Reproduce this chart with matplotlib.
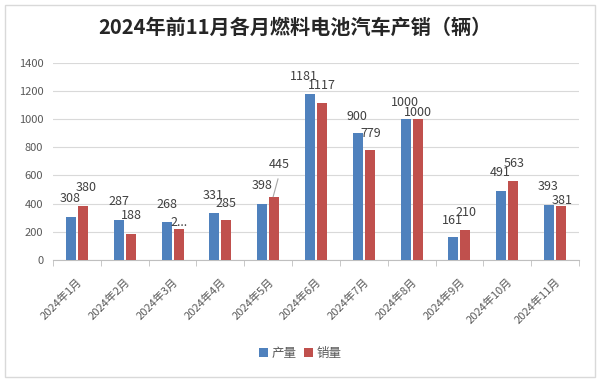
import matplotlib.pyplot as plt
from matplotlib.patches import Rectangle
import numpy as np

plt.rcParams['font.family'] = ['Noto Sans CJK SC', 'DejaVu Sans']

months = ['2024年1月', '2024年2月', '2024年3月', '2024年4月', '2024年5月', '2024年6月',
          '2024年7月', '2024年8月', '2024年9月', '2024年10月', '2024年11月']
production = [308, 287, 268, 331, 398, 1181, 900, 1000, 161, 491, 393]
sales = [380, 188, 220, 285, 445, 1117, 779, 1000, 210, 563, 381]
sales_text = ['380', '188', '2...', '285', '445', '1117', '779', '1000', '210', '563', '381']

# label offsets in pixels (dx, dy) from bar top, as placed in the original
prod_off = [(-1, 18), (0, 18), (0, 18), (-1, 18), (0, 18), (-6, 17), (-1, 17), (-1, 17), (-1, 17), (-1, 18), (-1, 18)]
sale_off = [(3, 19), (1, 18), (1, 6), (0, 16), (5, 33), (0, 17), (1, 17), (0, 7), (1, 18), (1, 17), (1, 6)]

BLUE = '#4F81BD'
RED = '#C0504D'

fig = plt.figure(figsize=(6, 3.82), dpi=100)
ax = fig.add_axes([53/600, 122/382, 526/600, 197.3/382])

x = np.arange(len(months))
w = 0.21
b1 = ax.bar(x - 0.125, production, w, color=BLUE, label='产量', zorder=3)
b2 = ax.bar(x + 0.125, sales, w, color=RED, label='销量', zorder=3)

for i in range(len(x)):
    dx, dy = prod_off[i]
    ax.annotate(str(production[i]), (x[i] - 0.125, production[i]), xytext=(dx, dy),
                textcoords='offset pixels', ha='center', va='center', fontsize=9, color='#404040')
    dx, dy = sale_off[i]
    ax.annotate(sales_text[i], (x[i] + 0.125, sales[i]), xytext=(dx, dy),
                textcoords='offset pixels', ha='center', va='center', fontsize=9, color='#404040')

# leader line for the 445 label
ax.plot([4 + 0.125 - 0.02, 4 + 0.125 + 0.08], [sales[4] + 5, sales[4] + 130],
        color='#A6A6A6', lw=0.8, zorder=4)

ax.set_xlim(-0.5, len(x) - 0.5)
ax.set_ylim(0, 1400)
ax.set_yticks(range(0, 1401, 200))
ax.grid(axis='y', color='#D9D9D9', lw=0.8, zorder=0)
for s in ['top', 'right', 'left']:
    ax.spines[s].set_visible(False)
ax.spines['bottom'].set_color('#BFBFBF')
ax.tick_params(axis='y', length=0, labelsize=8, labelcolor='#595959', pad=7)
ax.set_xticks(x)
ax.set_xticklabels(months, rotation=45, ha='right', rotation_mode='anchor', fontsize=8, color='#595959')
ax.tick_params(axis='x', length=0, pad=12)
ax.set_xticks(np.arange(-0.5, len(x)), minor=True)
ax.tick_params(axis='x', which='minor', length=4, color='#BFBFBF')

fig.text(295/600, 1 - 27/382, '2024年前11月各月燃料电池汽车产销（辆）', ha='center', va='center',
         fontsize=14.5, fontweight='bold', color='#262626')

fig.legend(handles=[b1, b2], loc='center', bbox_to_anchor=(300/600, 1 - 353/382), ncol=2,
           frameon=False, fontsize=9, handlelength=0.7, handleheight=0.7, columnspacing=0.6,
           handletextpad=0.3, labelcolor='#595959')

fig.patches.append(Rectangle((5/600, 5/382), 590/600, 372/382, transform=fig.transFigure,
                             fill=False, edgecolor='#D9D9D9', lw=1))

fig.savefig('out.png', dpi=100)
